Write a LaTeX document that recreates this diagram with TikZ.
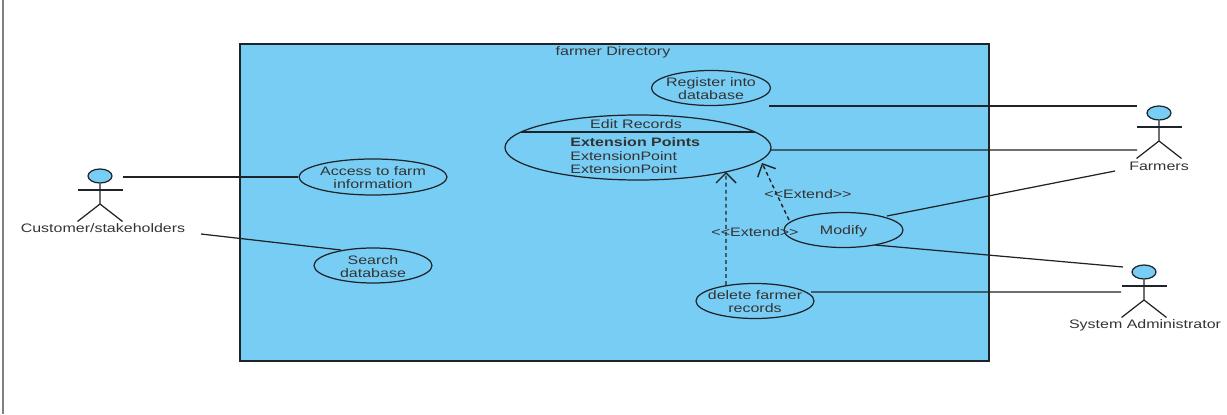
\documentclass[tikz,border=0pt]{standalone}
\usepackage{fontspec}
\setmainfont[FakeStretch=1.3]{Liberation Sans}
\usetikzlibrary{shapes.geometric,arrows.meta}
\definecolor{ucblue}{RGB}{120,205,245}
\definecolor{ucline}{RGB}{30,35,40}
\tikzset{
  txt/.style={font=\fontsize{7}{7.5}\selectfont, text=black!80, align=center, inner sep=0pt},
  usecase/.style={ellipse, draw=ucline, line width=0.7pt, fill=ucblue, inner sep=0pt, minimum width=2.38cm, minimum height=0.70cm},
  assoc/.style={draw=ucline, line width=0.7pt},
  extend/.style={draw=ucline, line width=0.8pt, dash pattern=on 2.2pt off 1.8pt, -{Straight Barb[length=0.2cm,width=0.4cm]}},
  actor/.pic={
    \node [ellipse, draw=ucline, line width=0.7pt, fill=ucblue, minimum width=0.48cm, minimum height=0.28cm, inner sep=0pt] (-head) at (0,0) {};
    \draw [assoc] (-head.south) -- (0,-0.56) -- (-0.45,-0.91);
    \draw [assoc] (0,-0.56) -- (0.45,-0.91);
    \draw [assoc] (-0.45,-0.28) -- (0.45,-0.28);
  }
}
\begin{document}
\begin{tikzpicture}
\useasboundingbox (0,0) rectangle (24.54,8.28);
\coordinate (margintop) at (0.06,8.28);
\coordinate (marginbot) at (0.06,0);
\draw [gray, line width=0.9pt] (margintop) -- (marginbot);

\node [rectangle, draw=ucline, line width=0.9pt, fill=ucblue, minimum width=14.98cm, minimum height=6.34cm] (system) at (12.29,4.23) {};
\node [txt] (systitle) at (12.26,7.24) {farmer Directory};

\node [usecase] (register) at (14.22,6.52) {};
\node [usecase, minimum width=5.32cm, minimum height=1.30cm] (edit) at (12.76,5.33) {};
\draw [assoc] ([shift={(-2.34,0.31)}]edit.center) -- ([shift={(2.34,0.31)}]edit.center);
\node [usecase, minimum width=2.96cm, minimum height=0.72cm] (access) at (7.46,4.74) {};
\node [usecase, minimum width=2.36cm] (search) at (7.46,2.97) {};
\node [usecase, minimum width=2.36cm] (delete) at (15.10,2.26) {};
\node [usecase] (modify) at (16.87,3.68) {};

\node [txt] (registertext) at (14.22,6.50) {Register into\\database};
\node [txt] (edittitle) at (12.72,5.79) {Edit Records};
\node [txt, anchor=north west, align=left, font=\fontsize{7}{7.65}\selectfont] (extpoints) at (11.40,5.53) {\textbf{Extension Points}\\ExtensionPoint\\ExtensionPoint};
\node [txt] (accesstext) at (7.46,4.72) {Access to farm\\information};
\node [txt] (searchtext) at (7.46,2.95) {Search\\database};
\node [txt] (deletetext) at (15.10,2.24) {delete farmer\\records};
\node [txt] (modifytext) at (16.87,3.66) {Modify};

\pic (customer) at (2.00,4.76) {actor};
\pic (farmers) at (23.18,6.02) {actor};
\pic (admin) at (22.88,2.84) {actor};
\node [txt] (customerlabel) at (2.06,3.72) {Customer/stakeholders};
\node [txt] (farmerslabel) at (23.18,4.96) {Farmers};
\node [txt] (adminlabel) at (22.90,1.78) {System Administrator};

% free ends of the associations
\coordinate (custa) at (2.46,4.74);
\coordinate (custb) at (4.02,3.60);
\coordinate (regend) at (15.38,6.16);
\coordinate (farma) at (22.74,6.16);
\coordinate (farmb) at (22.74,5.28);
\coordinate (farmc) at (22.30,4.86);
\coordinate (adma) at (22.46,2.94);
\coordinate (admb) at (22.42,2.44);

\draw [assoc] (custa) -- (access.west);
\draw [assoc] (custb) -- ([shift={(-0.64,0.31)}]search.center);
\draw [assoc] (regend) -- (farma);
\draw [assoc] ([shift={(2.66,-0.05)}]edit.center) -- (farmb);
\draw [assoc] ([shift={(0.87,0.28)}]modify.center) -- (farmc);
\draw [assoc] ([shift={(0.63,-0.30)}]modify.center) -- (adma);
\draw [assoc] ([shift={(1.12,0.18)}]delete.center) -- (admb);

\draw [extend] ([shift={(-1.09,0.20)}]modify.center) -- ([shift={(2.48,-0.31)}]edit.center);
\draw [extend] ([shift={(-0.58,0.32)}]delete.center) -- ([shift={(1.76,-0.49)}]edit.center);
\node [txt] (extendone) at (16.16,4.40) {<{}<Extend>{}>};
\node [txt] (extendtwo) at (15.10,3.64) {<{}<Extend>{}>};
\end{tikzpicture}
\end{document}
